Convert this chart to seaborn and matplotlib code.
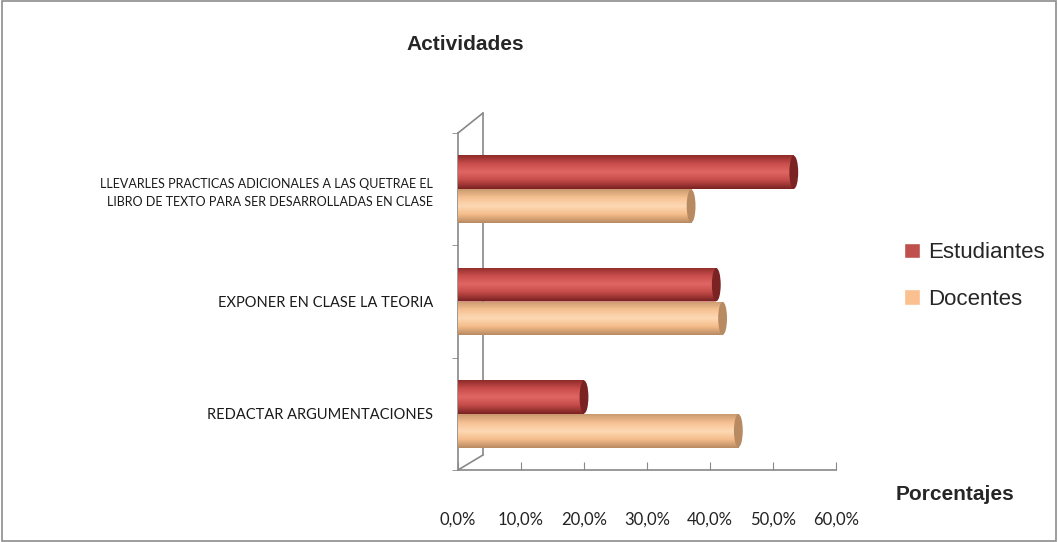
import numpy as np
import pandas as pd
import seaborn as sns
import matplotlib.pyplot as plt
from matplotlib.colors import LinearSegmentedColormap
from matplotlib.patches import Ellipse, Rectangle
from matplotlib.lines import Line2D
from matplotlib.ticker import FuncFormatter

categorias = [
    "LLEVARLES PRACTICAS ADICIONALES A LAS QUETRAE EL\nLIBRO DE TEXTO PARA SER DESARROLLADAS EN CLASE",
    "EXPONER EN CLASE LA TEORIA",
    "REDACTAR ARGUMENTACIONES",
]
series = ["Estudiantes", "Docentes"]
estudiantes = [53.3, 41.0, 20.0]
docentes = [37.0, 42.0, 44.5]
xticks = [0, 10, 20, 30, 40, 50, 60]

colores = {"Estudiantes": "#C0504D", "Docentes": "#FAC090"}
sombras = {
    "Estudiantes": ["#8E2B29", "#C94E4B", "#E06764", "#C24A47", "#7A2322"],
    "Docentes": ["#C99A6E", "#F7C193", "#FDD9B5", "#F5BC8A", "#B88A62"],
}

df = pd.DataFrame({
    "actividad": categorias * 2,
    "serie": ["Estudiantes"] * 3 + ["Docentes"] * 3,
    "valor": estudiantes + docentes,
})

sns.set_style("white")
plt.rcParams["font.family"] = ["Liberation Sans", "DejaVu Sans"]
etiquetas = ["Lato", "DejaVu Sans"]

fig = plt.figure(figsize=(10.58, 5.42), dpi=100)
W, H = 1058, 542
ax = fig.add_axes([458 / W, 1 - 470 / H, (836 - 458) / W, (470 - 133) / H])

sns.barplot(data=df, y="actividad", x="valor", hue="serie", order=categorias,
            hue_order=series, palette=colores, orient="h", width=0.6, gap=0,
            legend=False, ax=ax, saturation=1)

ax.set_xlim(0, 60)
ax.set_ylim(2.5, -0.5)
xl, yl = ax.get_xlim(), ax.get_ylim()

# sombreado tipo cilindro
for i, p in enumerate(list(ax.patches)):
    s = series[i // 3]
    cmap = LinearSegmentedColormap.from_list("c", sombras[s])
    x0, y0 = p.get_x(), p.get_y()
    w, h = p.get_width(), p.get_height()
    grad = np.linspace(0, 1, 64).reshape(-1, 1)
    im = ax.imshow(grad, cmap=cmap, aspect="auto", extent=[x0, x0 + w, y0 + h, y0],
                   zorder=3, interpolation="bicubic")
    im.set_clip_path(p)
    cap = Ellipse((x0 + w, y0 + h / 2), 1.4, h * 0.98, facecolor=sombras[s][-1],
                  edgecolor="none", zorder=4)
    ax.add_patch(cap)
    cap2 = Ellipse((x0, y0 + h / 2), 1.0, h * 0.98, facecolor=sombras[s][1],
                   edgecolor="none", zorder=2)
    ax.add_patch(cap2)

ax.set_xlim(xl)
ax.set_ylim(yl)

ax.set_xticks(xticks)
ax.xaxis.set_major_formatter(FuncFormatter(lambda v, _: f"{v:.1f}%".replace(".", ",")))
ax.set_yticks(range(3))
ax.set_yticklabels(categorias, fontsize=10.5, linespacing=1.6, family=etiquetas,
                   color="#1a1a1a")
ax.get_yticklabels()[0].set_fontsize(9)
ax.set_yticks([-0.5, 0.5, 1.5, 2.5], minor=True)
ax.tick_params(axis="y", which="major", length=0, pad=18)
ax.tick_params(axis="y", which="minor", left=True, length=4, color="#888888",
               direction="out")
ax.tick_params(axis="x", bottom=True, length=6, color="#888888", direction="in",
               pad=30, labelsize=12)
for t in ax.get_xticklabels():
    t.set_family(etiquetas)
    t.set_color("#222222")
ax.set_xlabel("")
ax.set_ylabel("")
for sp in ["top", "right"]:
    ax.spines[sp].set_visible(False)
for sp in ["left", "bottom"]:
    ax.spines[sp].set_color("#888888")
    ax.spines[sp].set_linewidth(1.2)

# pared 3D
dx = 25 / (836 - 458)
dyt = 20 / (470 - 133)
dyb = 15 / (470 - 133)
wall = dict(color="#888888", lw=1.2, transform=ax.transAxes, clip_on=False)
ax.add_line(Line2D([0, dx], [1, 1 + dyt], **wall))
ax.add_line(Line2D([dx, dx], [1 + dyt, dyb], **wall))
ax.add_line(Line2D([0, dx], [0, dyb], **wall))

fig.text(465 / W, 1 - 45 / H, "Actividades", ha="center", va="center",
         fontsize=15, fontweight="bold")
fig.text(955 / W, 1 - 495 / H, "Porcentajes", ha="center", va="center",
         fontsize=15, fontweight="bold")

handles = [Rectangle((0, 0), 1, 1, facecolor=colores[s]) for s in series]
fig.legend(handles, series, loc="center left", bbox_to_anchor=(884 / W, 1 - 276 / H),
           frameon=False, fontsize=16, handlelength=0.7, handleheight=0.7,
           handletextpad=0.4, labelspacing=1.15)

fig.add_artist(Rectangle((0.002, 0.002), 0.996, 0.996, transform=fig.transFigure,
                         fill=False, edgecolor="#8C8C8C", lw=1.2))

fig.savefig("out.png", dpi=100)
